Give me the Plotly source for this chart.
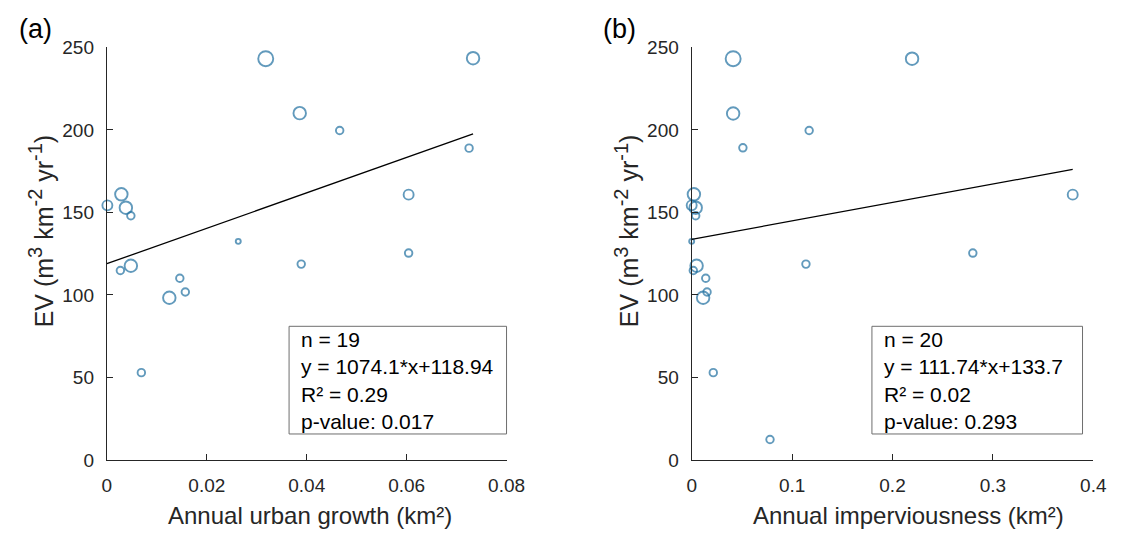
import plotly.graph_objects as go

# ---------------- data ----------------
# Panel (a): annual urban growth (km^2) vs EV
urban_growth = [0.0318, 0.0386, 0.0466, 0.0725, 0.0733, 0.0604, 0.0604, 0.0001, 0.0029, 0.0038,
                0.0048, 0.0263, 0.0389, 0.0048, 0.0027, 0.0146, 0.0157, 0.0125, 0.0069]
ev_a = [243.2, 210.2, 199.7, 189.0, 243.5, 160.8, 125.4, 154.3, 161.0, 152.9,
        148.0, 132.5, 118.7, 117.7, 114.8, 110.1, 101.8, 98.3, 52.9]
weight_a = [5, 4, 2, 2, 4, 3, 2, 3, 4, 4, 2, 1, 2, 4, 2, 2, 2, 4, 2]

# Panel (b): annual imperviousness (km^2) vs EV
imperviousness = [0.0413, 0.2195, 0.0413, 0.117, 0.051, 0.0022, 0.0, 0.004, 0.004, 0.0,
                  0.1138, 0.0049, 0.0016, 0.014, 0.0153, 0.0114, 0.0215, 0.078, 0.3795, 0.28]
ev_b = [243.2, 243.2, 210.0, 199.7, 189.2, 161.0, 154.3, 152.9, 148.0, 132.5,
        118.7, 117.7, 114.8, 110.1, 101.8, 98.3, 52.9, 12.4, 160.8, 125.4]
weight_b = [5, 4, 4, 2, 2, 4, 3, 4, 2, 1, 2, 4, 2, 2, 2, 4, 2, 2, 3, 2]

# regression fits
fit_a = {"slope": 1074.1, "intercept": 118.94, "n": 19, "r2": "0.29", "p": "0.017"}
fit_b = {"slope": 111.74, "intercept": 133.7, "n": 20, "r2": "0.02", "p": "0.293"}

xticks_a = [0, 0.02, 0.04, 0.06, 0.08]
xticklabels_a = ["0", "0.02", "0.04", "0.06", "0.08"]
xticks_b = [0, 0.1, 0.2, 0.3, 0.4]
xticklabels_b = ["0", "0.1", "0.2", "0.3", "0.4"]
yticks = [0, 50, 100, 150, 200, 250]

xlabel_a = "Annual urban growth (km²)"
xlabel_b = "Annual imperviousness (km²)"
SUP = '<sup><span style="font-size:20px">{}</span></sup>'
ylabel = "EV (m" + SUP.format("3") + " km" + SUP.format("-2") + " yr" + SUP.format("-1") + ")"

# ---------------- styling ----------------
W, H = 1126, 544
FONT = "Liberation Sans, Arial, sans-serif"
AXC = "#262626"
MC = "#1f6fa0"

def px_x(p):
    return p / W

def px_y(p):
    return 1 - p / H

def diam(w):
    return 2.5 + 2.5 * w

fig = go.Figure()

panels = [
    (urban_growth, ev_a, weight_a, fit_a, "x", "y"),
    (imperviousness, ev_b, weight_b, fit_b, "x2", "y2"),
]
for xs, ys, ws, fit, xa, ya in panels:
    fig.add_trace(go.Scatter(
        x=xs, y=ys, mode="markers", xaxis=xa, yaxis=ya, cliponaxis=False,
        marker=dict(symbol="circle-open", size=[diam(w) for w in ws], color=MC,
                    line=dict(width=1.9, color=MC)),
        showlegend=False, hoverinfo="x+y"))
    x0, x1 = 0.0, max(xs)
    fig.add_trace(go.Scatter(
        x=[x0, x1], y=[fit["slope"] * x0 + fit["intercept"], fit["slope"] * x1 + fit["intercept"]],
        mode="lines", xaxis=xa, yaxis=ya, line=dict(color="black", width=1.3),
        showlegend=False, hoverinfo="skip"))

ydom = [px_y(468), px_y(39)]
common_axis = dict(showline=True, linecolor=AXC, linewidth=1.2, ticks="inside", ticklen=6,
                   tickcolor=AXC, tickwidth=1, showgrid=False, zeroline=False, mirror=False,
                   tickfont=dict(family=FONT, size=19, color=AXC))

fig.update_layout(
    width=W, height=H, autosize=False,
    margin=dict(l=0, r=0, t=0, b=0),
    paper_bgcolor="white", plot_bgcolor="white",
    font=dict(family=FONT, color=AXC),
    xaxis=dict(domain=[px_x(104), px_x(512)], range=[0, 0.08], tickvals=xticks_a,
               ticktext=xticklabels_a, anchor="y", ticklabelstandoff=8, **common_axis),
    yaxis=dict(domain=ydom, range=[0, 250], tickvals=yticks, anchor="x",
               ticklabelstandoff=8, **common_axis),
    xaxis2=dict(domain=[px_x(701), px_x(1111)], range=[0, 0.4], tickvals=xticks_b,
                ticktext=xticklabels_b, anchor="y2", ticklabelstandoff=8, **common_axis),
    yaxis2=dict(domain=ydom, range=[0, 250], tickvals=yticks, anchor="x2",
                ticklabelstandoff=8, **common_axis),
)

annotations = []
shapes = []
# axis titles and panel labels
for cx, xlabel in [(311, xlabel_a), (922, xlabel_b)]:
    annotations.append(dict(x=px_x(cx), y=px_y(526), xref="paper", yref="paper",
                            text=xlabel, showarrow=False, xanchor="center", yanchor="middle",
                            font=dict(family=FONT, size=24, color=AXC)))
for cx in [37, 635]:
    annotations.append(dict(x=px_x(cx), y=px_y(230), xref="paper", yref="paper",
                            text=ylabel, showarrow=False, textangle=-90,
                            xanchor="center", yanchor="middle",
                            font=dict(family=FONT, size=25, color=AXC)))
for cx, lab in [(31, "(a)"), (627, "(b)")]:
    annotations.append(dict(x=px_x(cx), y=px_y(20), xref="paper", yref="paper",
                            text=lab, showarrow=False, xanchor="center", yanchor="middle",
                            font=dict(family=FONT, size=27, color="black")))

# statistics boxes
for (bx0, bx1), fit in [((290, 512), fit_a), ((885, 1100), fit_b)]:
    shapes.append(dict(type="rect", xref="paper", yref="paper",
                       x0=px_x(bx0), x1=px_x(bx1), y0=px_y(441), y1=px_y(329),
                       line=dict(color="#6e6e6e", width=1), fillcolor="white", layer="above"))
    txt = (f"n = {fit['n']}<br>y = {fit['slope']}*x+{fit['intercept']}"
           f"<br>R² = {fit['r2']}<br>p-value: {fit['p']}")
    annotations.append(dict(x=px_x(bx0 + 10), y=px_y(385), xref="paper", yref="paper",
                            text=txt, showarrow=False, xanchor="left", yanchor="middle",
                            align="left", font=dict(family=FONT, size=21, color="black")))

fig.update_layout(annotations=annotations, shapes=shapes)
fig.write_html("out.html")
